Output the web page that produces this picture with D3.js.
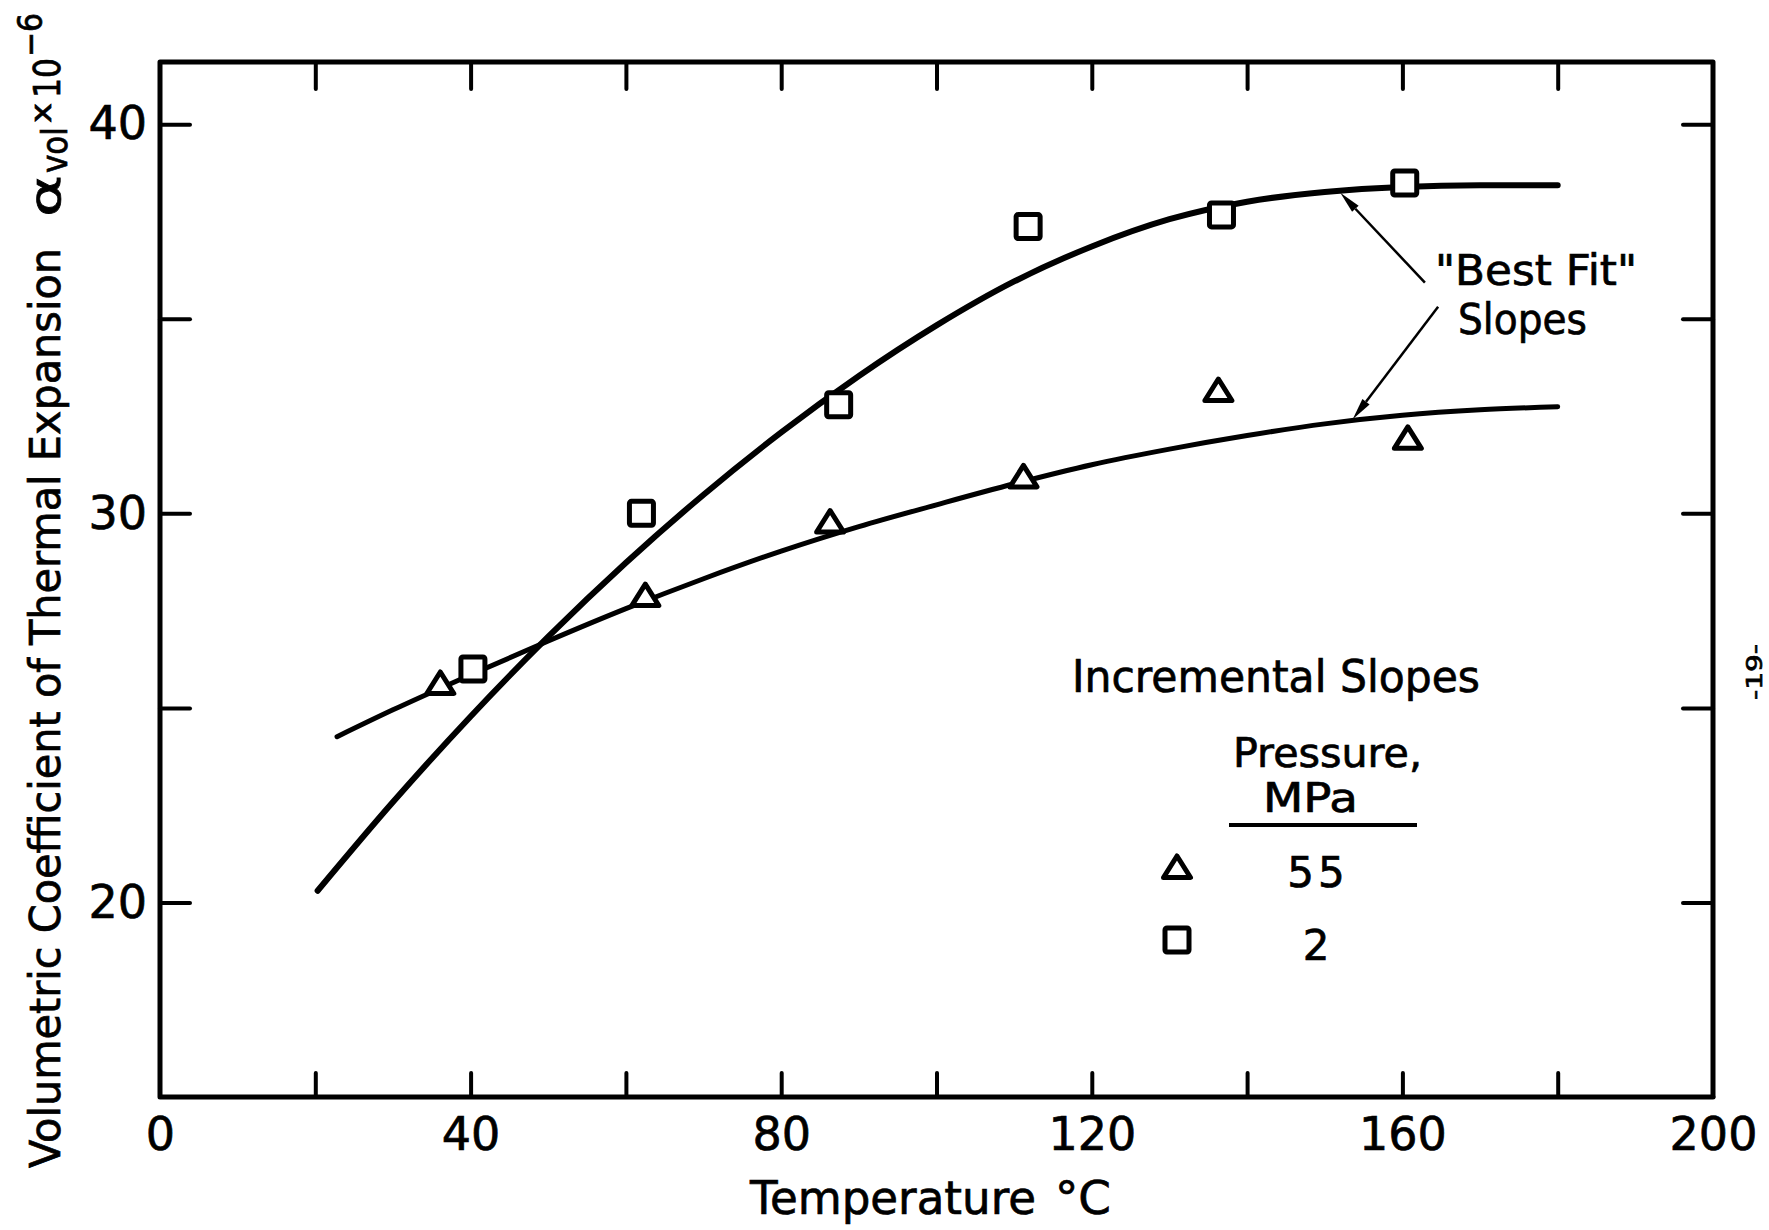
<!DOCTYPE html>
<html>
<head>
	<title>Volumetric Coefficient of Thermal Expansion</title>
</head>
<style type="text/css">
	html, body {margin:0px; padding:0px; background:#fff;}
	svg {display:block;}
	text {font-family: "DejaVu Sans", sans-serif; fill:#000; stroke:#000; stroke-width:0.7px;}
</style>
<body>

	<svg></svg>

<script src="https://d3js.org/d3.v7.min.js"></script>
<script type="text/javascript">

	// incremental slopes, 55 MPa (triangles)
	const tempTri = [36.1, 62.5, 86.3, 111.2, 136.3, 160.7];
	const alphaTri = [25.64, 27.9, 29.79, 30.95, 33.17, 31.94];

	// incremental slopes, 2 MPa (squares)
	const tempSq = [40.3, 62.0, 87.4, 111.8, 136.7, 160.3];
	const alphaSq = [26.0, 30.0, 32.79, 37.37, 37.67, 38.49];

	// "best fit" curves
	const fitTemp55 = [22.8, 30, 40, 50, 60, 70, 80, 90, 100, 110, 120, 130, 140, 150, 160, 170, 180];
	const fitAlpha55 = [24.26, 24.95, 25.85, 26.72, 27.55, 28.32, 29.03, 29.66, 30.22, 30.76, 31.25, 31.65, 32.0, 32.3, 32.52, 32.66, 32.74];
	const fitTemp2 = [20.3, 30, 40, 50, 60, 70, 80, 90, 100, 110, 120, 130, 140, 150, 160, 170, 180];
	const fitAlpha2 = [20.3, 22.58, 24.78, 26.83, 28.73, 30.48, 32.08, 33.53, 34.83, 35.96, 36.86, 37.56, 38.01, 38.26, 38.39, 38.43, 38.43];

	// ticks
	const xTicks = [20, 40, 60, 80, 100, 120, 140, 160, 180];
	const xTickLabels = [0, 40, 80, 120, 160, 200];
	const yTicks = [20, 25, 30, 35, 40];
	const yTickLabels = [20, 30, 40];

	// legend
	const legendPressures = ['55', '2'];
	const legendMarks = ['tri', 'sq'];

	// annotation arrows: [tail, tip] in data units
	const arrows = [
		[[162.9, 35.93], [152.0, 38.24]],
		[[164.6, 35.31], [153.6, 32.42]]
	];

	const W = 1769, H = 1230;
	const svg = d3.select('svg').attr('width', W).attr('height', H);

	const x = d3.scaleLinear().domain([0, 200]).range([160, 1713]);
	const y = d3.scaleLinear().domain([15, 41.6]).range([1097, 62]);

	const tickFont = '"DejaVu Sans", sans-serif';

	function styleAxis(g, size) {
		g.select('.domain').remove();
		g.attr('font-family', tickFont).attr('font-size', size);
		g.selectAll('line').attr('stroke', '#000').attr('stroke-width', 4).attr('stroke-linecap', 'round');
	}

	// tick marks, all pointing inward
	svg.append('g').attr('transform', `translate(0,${y(15)})`)
		.call(d3.axisBottom(x).tickValues(xTicks).tickSize(-24).tickFormat(''))
		.call(styleAxis, 46);
	svg.append('g').attr('transform', `translate(0,${y(41.6)})`)
		.call(d3.axisTop(x).tickValues(xTicks).tickSize(-27).tickFormat(''))
		.call(styleAxis, 46);
	svg.append('g').attr('transform', `translate(${x(0)},0)`)
		.call(d3.axisLeft(y).tickValues(yTicks).tickSize(-30).tickFormat(''))
		.call(styleAxis, 46);
	svg.append('g').attr('transform', `translate(${x(200)},0)`)
		.call(d3.axisRight(y).tickValues(yTicks).tickSize(-30).tickFormat(''))
		.call(styleAxis, 46);

	// tick labels
	svg.append('g').attr('transform', `translate(0,${y(15)})`)
		.call(d3.axisBottom(x).tickValues(xTickLabels).tickSize(0).tickPadding(20))
		.call(styleAxis, 46);
	svg.append('g').attr('transform', `translate(${x(0)},0)`)
		.call(d3.axisLeft(y).tickValues(yTickLabels).tickSize(0).tickPadding(13))
		.call(styleAxis, 46);

	// frame
	svg.append('rect')
		.attr('x', x(0)).attr('y', y(41.6))
		.attr('width', x(200) - x(0)).attr('height', y(15) - y(41.6))
		.attr('fill', 'none').attr('stroke', '#000').attr('stroke-width', 5)
		.attr('stroke-linejoin', 'round');

	// fitted curves
	const line = d3.line()
		.x(function(d) { return x(d[0]); })
		.y(function(d) { return y(d[1]); })
		.curve(d3.curveMonotoneX);

	svg.append('path').datum(d3.zip(fitTemp2, fitAlpha2))
		.attr('d', line).attr('fill', 'none').attr('stroke', '#000')
		.attr('stroke-width', 6).attr('stroke-linecap', 'round');
	svg.append('path').datum(d3.zip(fitTemp55, fitAlpha55))
		.attr('d', line).attr('fill', 'none').attr('stroke', '#000')
		.attr('stroke-width', 5).attr('stroke-linecap', 'round');

	// marker shapes
	function triangle(g, cx, cy) {
		g.append('path')
			.attr('d', `M${cx},${cy - 11}L${cx + 13.5},${cy + 10.5}L${cx - 13.5},${cy + 10.5}Z`)
			.attr('fill', '#fff').attr('stroke', '#000').attr('stroke-width', 5)
			.attr('stroke-linejoin', 'round');
	}
	function square(g, cx, cy) {
		g.append('rect')
			.attr('x', cx - 12).attr('y', cy - 12).attr('width', 24).attr('height', 24)
			.attr('rx', 2)
			.attr('fill', '#fff').attr('stroke', '#000').attr('stroke-width', 5);
	}

	const marks = svg.append('g');
	d3.zip(tempSq, alphaSq).forEach(function(d) { square(marks, x(d[0]), y(d[1])); });
	d3.zip(tempTri, alphaTri).forEach(function(d) { triangle(marks, x(d[0]), y(d[1])); });

	// arrows to the curves
	arrows.forEach(function(a) {
		let x1 = x(a[0][0]), y1 = y(a[0][1]);
		let x2 = x(a[1][0]), y2 = y(a[1][1]);
		let ang = Math.atan2(y2 - y1, x2 - x1);
		let L = 22, hw = 4.5;
		let bx = x2 - L * Math.cos(ang), by = y2 - L * Math.sin(ang);
		svg.append('line')
			.attr('x1', x1).attr('y1', y1).attr('x2', bx).attr('y2', by)
			.attr('stroke', '#000').attr('stroke-width', 2.5);
		svg.append('path')
			.attr('d', `M${x2},${y2}L${bx + hw * Math.sin(ang)},${by - hw * Math.cos(ang)}L${bx - hw * Math.sin(ang)},${by + hw * Math.cos(ang)}Z`)
			.attr('fill', '#000');
	});

	// plain text helpers
	function label(txt, x0, y0, len, size) {
		return svg.append('text')
			.attr('x', x0).attr('y', y0).attr('font-size', size)
			.attr('textLength', len).attr('lengthAdjust', 'spacingAndGlyphs')
			.text(txt);
	}
	function vlabel(txt, bx, yStart, len, size) {
		return svg.append('text')
			.attr('transform', `translate(${bx},${yStart}) rotate(-90)`)
			.attr('font-size', size)
			.attr('textLength', len).attr('lengthAdjust', 'spacingAndGlyphs')
			.text(txt);
	}

	// axis titles
	label('Temperature', 750, 1214, 286, 46);
	label('°C', 1055, 1214, 56, 46);

	vlabel('Volumetric Coefficient of Thermal Expansion', 60, 1168, 920, 42);
	vlabel('α', 60, 217, 42, 42);
	vlabel('vol', 67, 173, 46, 36);
	vlabel('x', 51, 123, 20, 28);
	vlabel('10', 60, 98, 40, 38);
	vlabel('−6', 42, 57, 44, 34);

	// annotation
	label('"Best Fit"', 1435, 285, 202, 42);
	label('Slopes', 1458, 334, 129, 42);

	// legend
	label('Incremental Slopes', 1072, 692, 408, 44);
	label('Pressure,', 1233, 767, 189, 40);
	label('MPa', 1263, 812, 95, 40);
	svg.append('line')
		.attr('x1', 1229).attr('x2', 1417).attr('y1', 825).attr('y2', 825)
		.attr('stroke', '#000').attr('stroke-width', 4);

	const legRows = [867, 940];
	legendPressures.forEach(function(p, i) {
		if (legendMarks[i] === 'tri') {
			triangle(svg, 1177, legRows[i]);
		} else {
			square(svg, 1177, legRows[i]);
		}
		svg.append('text')
			.attr('x', 1318).attr('y', legRows[i] + 20)
			.attr('font-size', 42).attr('text-anchor', 'middle')
			.attr('letter-spacing', 4)
			.text(p);
	});

	// page number on the scan margin
	vlabel('-19-', 1762, 700, 56, 22);

</script>
</body>
</html>
